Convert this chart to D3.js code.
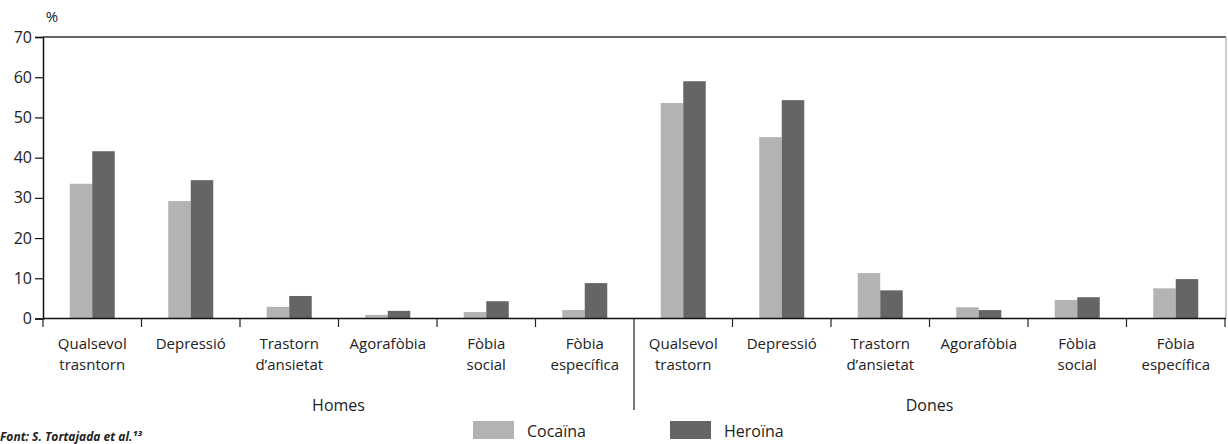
<!DOCTYPE html>
<html>
<head>
<meta charset="utf-8">
<script src="https://cdn.jsdelivr.net/npm/d3@7"></script>
<style>
  html, body { margin: 0; padding: 0; background: #fff; }
  svg { display: block; font-family: "Open Sans", "Noto Sans", sans-serif; }
</style>
</head>
<body>
<svg id="chart" width="1228" height="444"></svg>
<script>
const groups = ["Homes", "Dones"];
const categories = [
  ["Qualsevol", "trasntorn"], ["Depressió"], ["Trastorn", "d’ansietat"], ["Agorafòbia"], ["Fòbia", "social"], ["Fòbia", "específica"],
  ["Qualsevol", "trastorn"], ["Depressió"], ["Trastorn", "d’ansietat"], ["Agorafòbia"], ["Fòbia", "social"], ["Fòbia", "específica"]
];
const seriesNames = ["Cocaïna", "Heroïna"];
const cocaina = [33.5, 29.2, 2.9, 0.9, 1.6, 2.1, 53.6, 45.1, 11.3, 2.8, 4.6, 7.5];
const heroina = [41.6, 34.4, 5.6, 1.9, 4.3, 8.8, 59.0, 54.3, 7.0, 2.1, 5.3, 9.8];
const yTicks = [0, 10, 20, 30, 40, 50, 60, 70];
const colors = ["#b2b3b5", "#646567"];

(function () {
const svg = d3.select("#chart");
const pL = 43, pR = 1225, pT = 37, pB = 318.5;
const fs = 15;

const x = d3.scaleBand().domain(d3.range(categories.length)).range([pL, pR]).padding(0);
const xs = d3.scaleBand().domain([0, 1]).range([0, 45]);
const y = d3.scaleLinear().domain([0, 70]).range([pB, pT]);

// frame top and right
svg.append("line").attr("x1", pL).attr("x2", pR + 1).attr("y1", pT).attr("y2", pT)
  .attr("stroke", "#333").attr("stroke-width", 1.5);
svg.append("line").attr("x1", pR + 1).attr("x2", pR + 1).attr("y1", pT).attr("y2", pB)
  .attr("stroke", "#999").attr("stroke-width", 1);

// bars
const data = [cocaina, heroina];
const bw = 45;
data.forEach((vals, si) => {
  svg.append("g").selectAll("rect").data(vals).join("rect")
    .attr("x", (d, i) => x(i) + x.bandwidth() / 2 - bw / 2 + xs(si))
    .attr("width", xs.bandwidth())
    .attr("y", d => y(d))
    .attr("height", d => y(0) - y(d))
    .attr("fill", colors[si]);
});

// y axis
const yAxis = svg.append("g").attr("transform", `translate(${pL},0)`)
  .call(d3.axisLeft(y).tickValues(yTicks).tickSize(8).tickPadding(3).tickFormat(d3.format("d")));
yAxis.select(".domain").attr("stroke", "#111").attr("stroke-width", 1.5);
yAxis.selectAll(".tick line").attr("stroke", "#111").attr("stroke-width", 1.2);
yAxis.selectAll(".tick text").attr("font-size", 16).attr("fill", "#222")
  .attr("font-family", "'Open Sans', sans-serif");

svg.append("text").attr("x", 52).attr("y", 22).attr("text-anchor", "middle")
  .attr("font-size", 15).attr("fill", "#222").text("%");

// x axis
svg.append("line").attr("x1", pL).attr("x2", pR + 1).attr("y1", pB).attr("y2", pB)
  .attr("stroke", "#111").attr("stroke-width", 1.5);
const bounds = d3.range(categories.length + 1).map(i => i < categories.length ? x(i) : pR);
svg.append("g").selectAll("line").data(bounds).join("line")
  .attr("x1", d => d).attr("x2", d => d)
  .attr("y1", pB).attr("y2", (d, i) => i === 6 ? 410 : 327)
  .attr("stroke", "#222").attr("stroke-width", 1.2);

// category labels (one text per line)
const labs = svg.append("g").attr("font-size", fs).attr("fill", "#222").attr("text-anchor", "middle");
categories.forEach((lines, i) => {
  const cx = x(i) + x.bandwidth() / 2;
  lines.forEach((l, j) => labs.append("text").attr("x", cx).attr("y", 349 + j * 20.8).text(l));
});

// group labels
groups.forEach((g, gi) => {
  const cx = (x(gi * 6) + (gi === 0 ? x(6) : pR)) / 2;
  svg.append("text").attr("x", cx).attr("y", 411).attr("text-anchor", "middle")
    .attr("font-size", 16).attr("fill", "#222").text(g);
});

// legend
const legX = [473, 670];
seriesNames.forEach((n, i) => {
  svg.append("rect").attr("x", legX[i]).attr("y", 421).attr("width", 41).attr("height", 18).attr("fill", colors[i]);
  svg.append("text").attr("x", legX[i] + 54).attr("y", 437).attr("font-size", 16).attr("fill", "#222").text(n);
});

// source note
svg.append("text").attr("x", 0).attr("y", 441).attr("font-size", 12).attr("font-weight", "bold")
  .attr("font-style", "italic").attr("fill", "#222").text("Font: S. Tortajada et al.¹³");
})();
</script>
</body>
</html>
